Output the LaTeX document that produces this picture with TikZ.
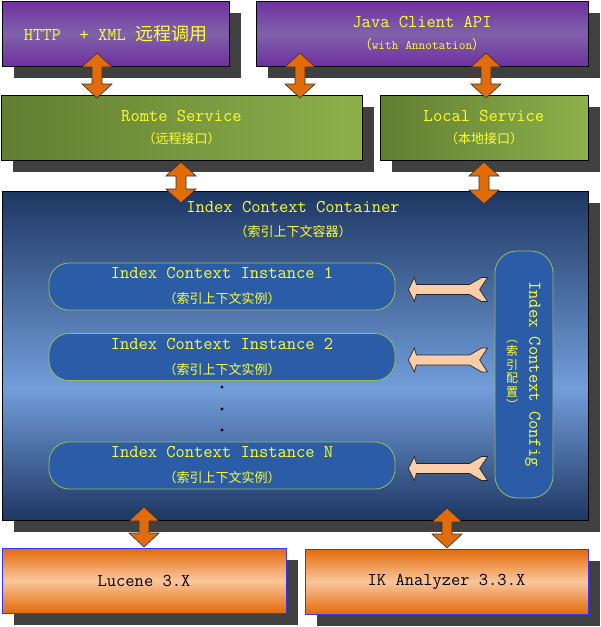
\documentclass[tikz,border=0pt]{standalone}
\usepackage{fontspec}
\usepackage{tikz}
\usetikzlibrary{calc}
\usetikzlibrary{shadows}
\newfontfamily\cjk{Noto Sans CJK SC}

\definecolor{purp}{HTML}{7030A0}
\definecolor{purpmid}{HTML}{7F62AA}
\definecolor{gdark}{HTML}{627E32}
\definecolor{glight}{HTML}{8DB04B}
\definecolor{navy}{HTML}{1E3763}
\definecolor{sky}{HTML}{729EDA}
\definecolor{instfill}{HTML}{2A5CA8}
\definecolor{instedge}{HTML}{9BBB59}
\definecolor{orng}{HTML}{E26B0A}
\definecolor{orngl}{HTML}{FAC69C}
\definecolor{peach}{HTML}{FBCDA8}
\definecolor{yel}{HTML}{FFFF33}
\definecolor{libblue}{HTML}{3535FF}

\pgfdeclareverticalshading{ctnshade}{100bp}{color(0bp)=(navy); color(25bp)=(navy); color(45bp)=(sky); color(75bp)=(navy); color(100bp)=(navy)}

\newcommand\bigtt{\fontsize{18}{21}\selectfont\ttfamily}
\newcommand\subtt{\fontsize{13}{14}\selectfont\ttfamily}
\newcommand\subcn{\fontsize{13}{14}\selectfont\cjk}
\newcommand\stackcn{\fontsize{12}{13.5}\selectfont\cjk}

% orange two-way arrow between two tips (upper, lower)
\newcommand\biarrow[2]{%
  \path[twoway] let \p1=(#1), \p2=(#2) in
    (\x1,\y1) -- (\x1+15pt,\y1-14pt) -- (\x1+5pt,\y1-14pt) -- (\x1+5pt,\y2+14pt)
    -- (\x1+15pt,\y2+14pt) -- (\x1,\y2) -- (\x1-15pt,\y2+14pt) -- (\x1-5pt,\y2+14pt)
    -- (\x1-5pt,\y1-14pt) -- (\x1-15pt,\y1-14pt) -- cycle;}

% peach arrow from the config box (#1) to an instance (#2)
\newcommand\feedarrow[2]{%
  \path[feed] let \p1=(#2.east), \p2=(#1.west) in
    (\x1+13pt,\y1-3pt) -- (\x1+19pt,\y1+9pt) -- (\x1+21pt,\y1+2pt) -- (\x2-25pt,\y1+2pt)
    -- (\x2-13pt,\y1+9pt) -- (\x2-7pt,\y1+9pt) -- (\x2-15pt,\y1-3pt) -- (\x2-7pt,\y1-15pt)
    -- (\x2-13pt,\y1-15pt) -- (\x2-25pt,\y1-8pt) -- (\x1+21pt,\y1-8pt) -- (\x1+19pt,\y1-15pt) -- cycle;}

\tikzset{
  ytxt/.style={text=yel, font=\bigtt, align=center},
  box/.style={draw=black, line width=0.8pt, minimum height=65pt, inner sep=0pt, align=center,
    drop shadow={shadow xshift=12pt, shadow yshift=-12pt, opacity=1, fill=black!75}},
  purplebox/.style={box, ytxt, top color=purp, bottom color=purp, middle color=purpmid},
  greenbox/.style={box, ytxt, left color=gdark, right color=glight},
  libbox/.style={box, draw=libblue, font=\bigtt, text=black, top color=orng, bottom color=orng, middle color=orngl},
  instbox/.style={ytxt, draw=instedge, fill=instfill, line width=0.8pt, rounded corners=20pt},
  twoway/.style={fill=orng, draw=black!80, line width=0.6pt},
  feed/.style={fill=peach, draw=black!85, line width=0.7pt}
}

\begin{document}
\begin{tikzpicture}[x=1pt,y=-1pt]
\useasboundingbox (0,0) rectangle (601,627);

% clients
\node[purplebox, minimum width=227pt] (http) at (115.5,33.5) {HTTP\ \ + XML {\cjk 远程调用}};
\node[purplebox, minimum width=332pt] (japi) at (422,33.5)
  {Java Client API\\[1pt]{\subcn （}{\subtt with Annotation}{\subcn ）}};

% services
\node[greenbox, minimum width=361pt] (romte) at (181.5,127.5) {Romte Service\\[1pt]{\subcn （远程接口）}};
\node[greenbox, minimum width=208pt] (local) at (484,127.5) {Local Service\\[1pt]{\subcn （本地接口）}};

% container
\node[box, shading=ctnshade, minimum width=586pt, minimum height=329pt] (ctn) at (295,355.5) {};
\node[ytxt] (ctntitle) at (293,220) {Index Context Container\\[3pt]{\subcn （索引上下文容器）}};

\node[instbox, minimum width=346pt, minimum height=47pt] (inst1) at (222,286.5)
  {Index Context Instance 1\\[4pt]{\subcn （索引上下文实例）}};
\node[instbox, minimum width=346pt, minimum height=47pt] (inst2) at (222,357)
  {Index Context Instance 2\\[4pt]{\subcn （索引上下文实例）}};
\node[instbox, minimum width=346pt, minimum height=47pt] (instN) at (222,465.5)
  {Index Context Instance N\\[4pt]{\subcn （索引上下文实例）}};
\foreach \y in {387,409,430}
  \fill (222,\y) circle (1.6pt);

\node[instbox, minimum width=58pt, minimum height=247pt, rounded corners=22pt] (cfg) at (524,374.5) {};
\node[ytxt, rotate=-90] (cfgname) at (533,374) {Index Context Config};
\node[ytxt, font=\stackcn] (cfgsub) at (512,375) {︵\\索\\引\\配\\置\\︶};

% libraries
\node[libbox, minimum width=284pt] (lucene) at (144,580.5) {Lucene 3.X};
\node[libbox, minimum width=283pt] (ik) at (446.5,581.5) {IK Analyzer 3.3.X};

% arrows
\coordinate (u1) at (97,53);  \coordinate (d1) at (97,98);
\coordinate (u2) at (300,53); \coordinate (d2) at (300,98);
\coordinate (u3) at (486,53); \coordinate (d3) at (486,98);
\coordinate (u4) at (181,162); \coordinate (d4) at (181,203);
\coordinate (u5) at (484,162); \coordinate (d5) at (484,204);
\coordinate (u6) at (144,507); \coordinate (d6) at (144,547);
\coordinate (u7) at (447,508); \coordinate (d7) at (447,548);
\biarrow{u1}{d1}
\biarrow{u2}{d2}
\biarrow{u3}{d3}
\biarrow{u4}{d4}
\biarrow{u5}{d5}
\biarrow{u6}{d6}
\biarrow{u7}{d7}

\feedarrow{cfg}{inst1}
\feedarrow{cfg}{inst2}
\feedarrow{cfg}{instN}
\end{tikzpicture}
\end{document}
